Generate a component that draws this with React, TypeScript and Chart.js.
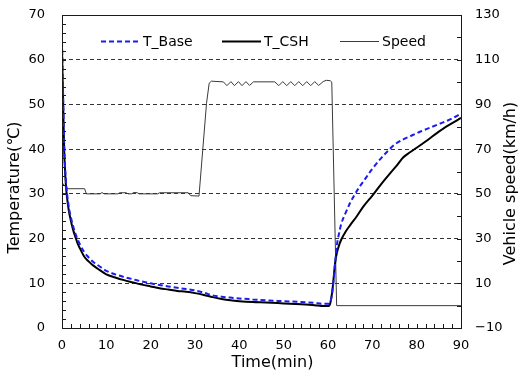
import React, { useEffect, useRef } from 'react';
import { Chart, registerables } from 'chart.js';

Chart.register(...registerables);

// ---- data ----
const baseTime = [0, 0.15, 0.3, 0.5, 0.75, 1, 1.5, 2, 2.5, 3, 3.5, 4, 5, 6, 7, 8, 10, 12, 14, 16, 18, 20, 22, 24, 26, 28, 30, 32, 34, 36, 38, 40, 43, 46, 50, 54, 57, 59, 60, 60.5, 60.9, 61.3, 61.7, 62, 62.5, 63, 64, 65, 66, 67, 68, 70, 72, 73.5, 75, 77, 79, 81, 83, 85, 87, 89, 90];
const baseTemp = [64, 57, 50, 41, 35, 31.5, 27.3, 24.8, 22.8, 21.2, 19.9, 18.8, 17.0, 15.8, 14.8, 14.1, 12.8, 12.0, 11.4, 10.9, 10.4, 10.0, 9.6, 9.3, 9.0, 8.7, 8.4, 7.9, 7.3, 7.0, 6.8, 6.6, 6.4, 6.2, 6.0, 5.8, 5.6, 5.4, 5.4, 5.8, 7.5, 11, 15.5, 18.5, 21.2, 23.3, 25.8, 28.0, 29.8, 31.4, 32.8, 35.6, 38.0, 39.6, 41.0, 42.2, 43.1, 44.0, 44.8, 45.6, 46.4, 47.4, 48.0];

const cshTime = [0, 0.15, 0.3, 0.5, 0.75, 1, 1.5, 2, 2.5, 3, 3.5, 4, 5, 6, 7, 8, 10, 12, 14, 16, 18, 20, 22, 24, 26, 28, 30, 32, 34, 36, 38, 40, 43, 46, 50, 54, 57, 59, 60, 60.5, 61, 61.3, 61.6, 62, 62.5, 63, 64, 65, 66.5, 68, 70, 72, 74, 75.5, 77, 78.5, 80, 82, 84, 86, 88, 90];
const cshTemp = [62.7, 55, 48, 39.5, 34, 30.5, 26.5, 24.0, 22.0, 20.4, 19.0, 17.9, 16.0, 14.9, 14.0, 13.3, 12.0, 11.3, 10.7, 10.2, 9.7, 9.3, 8.9, 8.6, 8.3, 8.1, 7.8, 7.4, 6.9, 6.5, 6.2, 6.0, 5.8, 5.7, 5.5, 5.3, 5.1, 4.9, 4.9, 5.5, 8.5, 11.5, 14.5, 16.8, 18.5, 19.8, 21.6, 23.0, 25.0, 27.2, 29.6, 32.2, 34.6, 36.3, 38.2, 39.3, 40.3, 41.7, 43.2, 44.6, 45.8, 47.0];

const speedTime = [0, 1.2, 5.1, 5.5, 8.6, 9.0, 9.5, 12.6, 13.0, 14.5, 14.9, 15.7, 16.2, 17.0, 17.4, 21.6, 22.0, 28.5, 29.0, 30.9, 32.6, 33.2, 33.7, 36.4, 37.2, 38.1, 38.9, 39.8, 40.6, 41.5, 42.3, 43.2, 48.0, 48.9, 49.8, 50.7, 51.6, 52.5, 53.4, 54.3, 55.2, 56.1, 57.0, 57.9, 58.9, 59.6, 60.5, 60.85, 61.95, 90];
const speedValue = [55, 52.3, 52.3, 50, 50, 50.6, 50, 50, 50.5, 50.5, 50, 50, 50.6, 50.5, 50, 50, 50.5, 50.5, 49.2, 49, 90.5, 99.5, 100.4, 100.1, 98.4, 100.2, 98.4, 100.2, 98.4, 100.2, 98.5, 100.1, 100.1, 98.4, 100.2, 98.4, 100.2, 98.4, 100.2, 98.4, 100.2, 98.4, 100.2, 98.5, 100.2, 100.8, 100.6, 100.0, 0, 0];

const timeTickLabels = [0, 10, 20, 30, 40, 50, 60, 70, 80, 90];
const tempTickLabels = [0, 10, 20, 30, 40, 50, 60, 70];
const speedTickLabels = [-10, 10, 30, 50, 70, 90, 110, 130];

const seriesLabels = ['T_Base', 'T_CSH', 'Speed'];

const FONT = "'DejaVu Sans', 'Liberation Sans', sans-serif";

const pts = (xs: number[], ys: number[]) => xs.map((x, i) => ({ x, y: ys[i] }));

const decorPlugin = {
  id: 'decor',
  afterDatasetsDraw(chart: any) {
    const { ctx, chartArea: a, scales } = chart;
    ctx.save();
    ctx.setLineDash([]);
    ctx.strokeStyle = '#1a1a1a';
    ctx.lineWidth = 1;
    ctx.beginPath();
    const L = 4;
    for (let v = 0; v <= 90; v += 2) {
      const px = Math.round(scales.x.getPixelForValue(v)) + 0.5;
      ctx.moveTo(px, a.bottom);
      ctx.lineTo(px, a.bottom - L);
    }
    for (let v = 0; v <= 70; v += 2) {
      const py = Math.round(scales.y.getPixelForValue(v)) + 0.5;
      ctx.moveTo(a.left, py);
      ctx.lineTo(a.left + L, py);
    }
    for (let v = -10; v <= 130; v += 10) {
      const py = Math.round(scales.y2.getPixelForValue(v)) + 0.5;
      ctx.moveTo(a.right, py);
      ctx.lineTo(a.right - L, py);
    }
    ctx.stroke();
    ctx.strokeRect(Math.round(a.left) + 0.5, Math.round(a.top) + 0.5, Math.round(a.right - a.left), Math.round(a.bottom - a.top));
    ctx.restore();
  },
  afterDraw(chart: any) {
    const { ctx, chartArea: a } = chart;
    ctx.save();
    ctx.fillStyle = '#000';
    // axis titles
    ctx.font = `16px ${FONT}`;
    ctx.textAlign = 'center';
    ctx.textBaseline = 'middle';
    ctx.fillText('Time(min)', 272.5, a.bottom + 35);
    ctx.save();
    ctx.translate(15, 187.5);
    ctx.rotate(-Math.PI / 2);
    ctx.fillText('Temperature(℃)', 0, 0);
    ctx.restore();
    ctx.save();
    ctx.translate(a.right + 50, 183.5);
    ctx.rotate(-Math.PI / 2);
    ctx.fillText('Vehicle speed(km/h)', 0, 0);
    ctx.restore();
    // legend
    const legendX = [101, 222, 340];
    const ly = a.top + 26;
    ctx.font = `14px ${FONT}`;
    ctx.textAlign = 'left';
    chart.data.datasets.forEach((ds: any, i: number) => {
      const x0 = legendX[i];
      ctx.save();
      ctx.strokeStyle = ds.borderColor;
      ctx.lineWidth = ds.borderWidth;
      ctx.setLineDash(ds.borderDash || []);
      ctx.beginPath();
      ctx.moveTo(x0, ly + 0.5);
      ctx.lineTo(x0 + 39, ly + 0.5);
      ctx.stroke();
      ctx.restore();
      ctx.fillText(ds.label, x0 + 42, ly + 1);
    });
    ctx.restore();
  },
};

const fitVertical = (w: number) => (s: any) => {
  s.width = w;
  s.paddingTop = 0;
  s.paddingBottom = 0;
};

export default function App() {
  const ref = useRef<HTMLCanvasElement | null>(null);
  useEffect(() => {
    document.body.style.margin = '0';
    const canvas = ref.current!;
    const tickFont = { family: FONT, size: 13 };
    const chart = new Chart(canvas, {
      type: 'line',
      data: {
        datasets: [
          {
            label: seriesLabels[0],
            data: pts(baseTime, baseTemp),
            borderColor: 'rgb(28,28,240)',
            borderWidth: 2,
            borderDash: [5, 3],
            pointRadius: 0,
            cubicInterpolationMode: 'monotone',
            yAxisID: 'y',
          },
          {
            label: seriesLabels[1],
            data: pts(cshTime, cshTemp),
            borderColor: '#000000',
            borderWidth: 2,
            pointRadius: 0,
            cubicInterpolationMode: 'monotone',
            yAxisID: 'y',
          },
          {
            label: seriesLabels[2],
            data: pts(speedTime, speedValue),
            borderColor: '#3a3a3a',
            borderWidth: 1,
            pointRadius: 0,
            tension: 0,
            yAxisID: 'y2',
          },
        ],
      },
      options: {
        responsive: false,
        animation: false,
        devicePixelRatio: 1,
        parsing: false as any,
        layout: { padding: { top: 15, left: 0, right: 0, bottom: 0 } },
        plugins: { legend: { display: false }, tooltip: { enabled: false } },
        scales: {
          x: {
            type: 'linear',
            min: 0,
            max: 90,
            afterBuildTicks: (s: any) => { s.ticks = timeTickLabels.map((v) => ({ value: v })); },
            afterFit: (s: any) => { s.height = 46; s.paddingLeft = 0; s.paddingRight = 0; },
            grid: { display: false, drawTicks: false },
            border: { display: false },
            ticks: { font: tickFont, color: '#000', padding: 10, maxRotation: 0, autoSkip: false },
          },
          y: {
            type: 'linear',
            position: 'left',
            min: 0,
            max: 70,
            afterBuildTicks: (s: any) => { s.ticks = tempTickLabels.map((v) => ({ value: v })); },
            afterFit: fitVertical(62),
            grid: {
              drawTicks: false,
              color: (c: any) => (c.tick && (c.tick.value === 0 || c.tick.value === 70) ? 'rgba(0,0,0,0)' : '#333'),
              lineWidth: 1,
            },
            border: { display: false, dash: [4, 3] },
            ticks: { font: tickFont, color: '#000', padding: 17 },
          },
          y2: {
            type: 'linear',
            position: 'right',
            min: -10,
            max: 130,
            afterBuildTicks: (s: any) => { s.ticks = speedTickLabels.map((v) => ({ value: v })); },
            afterFit: fitVertical(57),
            grid: { display: false, drawTicks: false },
            border: { display: false },
            ticks: {
              font: tickFont,
              color: '#000',
              padding: 14,
              callback: (v: any) => (Number(v) < 0 ? '\u2212' + Math.abs(Number(v)) : String(v)),
            },
          },
        },
      },
      plugins: [decorPlugin],
    });
    return () => chart.destroy();
  }, []);
  return (
    <div style={{ width: 518, height: 374, background: '#fff' }}>
      <canvas ref={ref} width={518} height={374} style={{ width: 518, height: 374, display: 'block' }} />
    </div>
  );
}
